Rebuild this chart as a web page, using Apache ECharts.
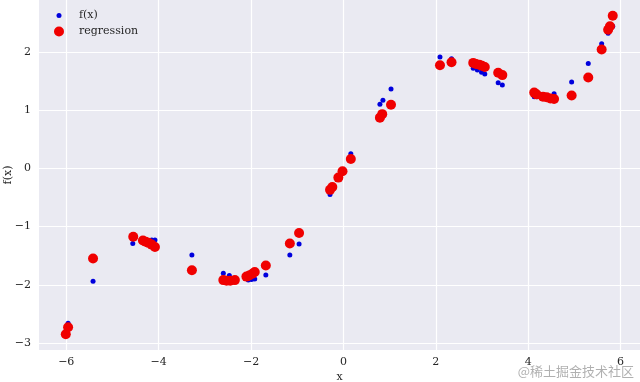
<!DOCTYPE html>
<html>
<head>
<meta charset="utf-8">
<script src="https://cdn.jsdelivr.net/npm/echarts@6/dist/echarts.min.js"></script>
<style>html,body{margin:0;padding:0;background:#fff;}#c{width:640px;height:382px;}</style>
</head>
<body>
<div id="c"></div>
<script>
// f(x) sample points (visible blue dots)
const fxX = [-5.96,-5.42,-4.56,-4.15,-4.08,-3.28,-2.60,-2.47,-2.06,-1.99,-1.92,-1.68,-1.16,-0.96,-0.29,0.16,0.79,0.855,1.03,2.09,2.34,2.81,2.90,2.99,3.06,3.35,3.44,4.13,4.19,4.56,4.94,5.30,5.59,5.73,5.83];
const fxY = [-2.66,-1.94,-1.29,-1.23,-1.23,-1.49,-1.80,-1.84,-1.92,-1.91,-1.90,-1.83,-1.49,-1.30,-0.45,0.25,1.10,1.17,1.36,1.91,1.88,1.72,1.69,1.65,1.62,1.47,1.43,1.23,1.23,1.28,1.48,1.80,2.14,2.32,2.44];
// regression predictions (red dots)
const regX = [-6.01,-5.96,-5.42,-4.55,-4.34,-4.28,-4.22,-4.15,-4.08,-3.28,-2.60,-2.53,-2.45,-2.35,-2.10,-2.04,-1.97,-1.92,-1.68,-1.16,-0.96,-0.29,-0.24,-0.11,-0.02,0.16,0.79,0.84,1.03,2.09,2.34,2.81,2.87,2.94,3.00,3.06,3.35,3.44,4.13,4.18,4.32,4.40,4.48,4.56,4.94,5.30,5.59,5.73,5.77,5.83];
const regY = [-2.85,-2.73,-1.55,-1.175,-1.24,-1.26,-1.28,-1.31,-1.35,-1.75,-1.92,-1.93,-1.93,-1.92,-1.86,-1.84,-1.81,-1.78,-1.67,-1.29,-1.11,-0.37,-0.32,-0.16,-0.05,0.16,0.87,0.93,1.09,1.77,1.82,1.81,1.79,1.78,1.76,1.74,1.64,1.60,1.30,1.27,1.23,1.22,1.20,1.19,1.25,1.56,2.04,2.38,2.44,2.62];
// tick labels
const xTicks = [-6,-4,-2,0,2,4,6];
const yTicks = [-3,-2,-1,0,1,2];

const FONT = "'DejaVu Serif', serif";
const TXT = '#262626';
const fmt = v => String(v).replace('-', '\u2212');

const chart = echarts.init(document.getElementById('c'), null, {renderer: 'canvas'});
chart.setOption({
  animation: false,
  backgroundColor: '#ffffff',
  grid: {left: 39, right: 0, top: 0, bottom: 32, show: true, backgroundColor: '#EAEAF2', borderWidth: 0,
         containLabel: false, outerBoundsMode: 'none'},
  legend: [
    {data: ['f(x)'], left: 56.5, top: 10, padding: 0, itemWidth: 5, itemHeight: 5, icon: 'circle',
     textStyle: {fontFamily: FONT, fontSize: 11, color: TXT, padding: [0, 0, 0, 12.5]}},
    {data: ['regression'], left: 54, top: 26, padding: 0, itemWidth: 10, itemHeight: 10, icon: 'circle',
     textStyle: {fontFamily: FONT, fontSize: 11, color: TXT, padding: [0, 0, 0, 10]}}
  ],
  xAxis: {
    type: 'value', min: -6.59, max: 6.42,
    name: 'x', nameLocation: 'middle', nameGap: 22, nameMoveOverlap: false,
    nameTextStyle: {fontFamily: FONT, fontSize: 11, color: TXT},
    axisLine: {show: false},
    axisTick: {show: false, customValues: xTicks},
    axisLabel: {customValues: xTicks, formatter: fmt, fontFamily: FONT, fontSize: 11, color: TXT, margin: 7},
    splitLine: {show: true, lineStyle: {color: '#ffffff', width: 1.2}}
  },
  yAxis: {
    type: 'value', min: -3.12, max: 2.89,
    name: 'f(x)', nameLocation: 'middle', nameGap: 25, nameMoveOverlap: false,
    nameTextStyle: {fontFamily: FONT, fontSize: 11, color: TXT},
    axisLine: {show: false},
    axisTick: {show: false, customValues: yTicks},
    axisLabel: {customValues: yTicks, formatter: fmt, fontFamily: FONT, fontSize: 11, color: TXT, margin: 8},
    splitLine: {show: true, lineStyle: {color: '#ffffff', width: 1.2}}
  },
  series: [
    {name: 'f(x)', type: 'scatter', symbolSize: 5, itemStyle: {color: '#0000dd', opacity: 1},
     data: fxX.map((x, i) => [x, fxY[i]]), z: 2},
    {name: 'regression', type: 'scatter', symbolSize: 10, itemStyle: {color: '#f00000', opacity: 1},
     data: regX.map((x, i) => [x, regY[i]]), z: 3}
  ],
  graphic: [
    {type: 'text', right: 6, bottom: 4, style: {text: '@稀土掘金技术社区', fontFamily: "'Noto Sans CJK SC', sans-serif", fontSize: 13, fill: 'rgba(150,150,150,0.75)'}}
  ]
});
</script>
</body>
</html>
